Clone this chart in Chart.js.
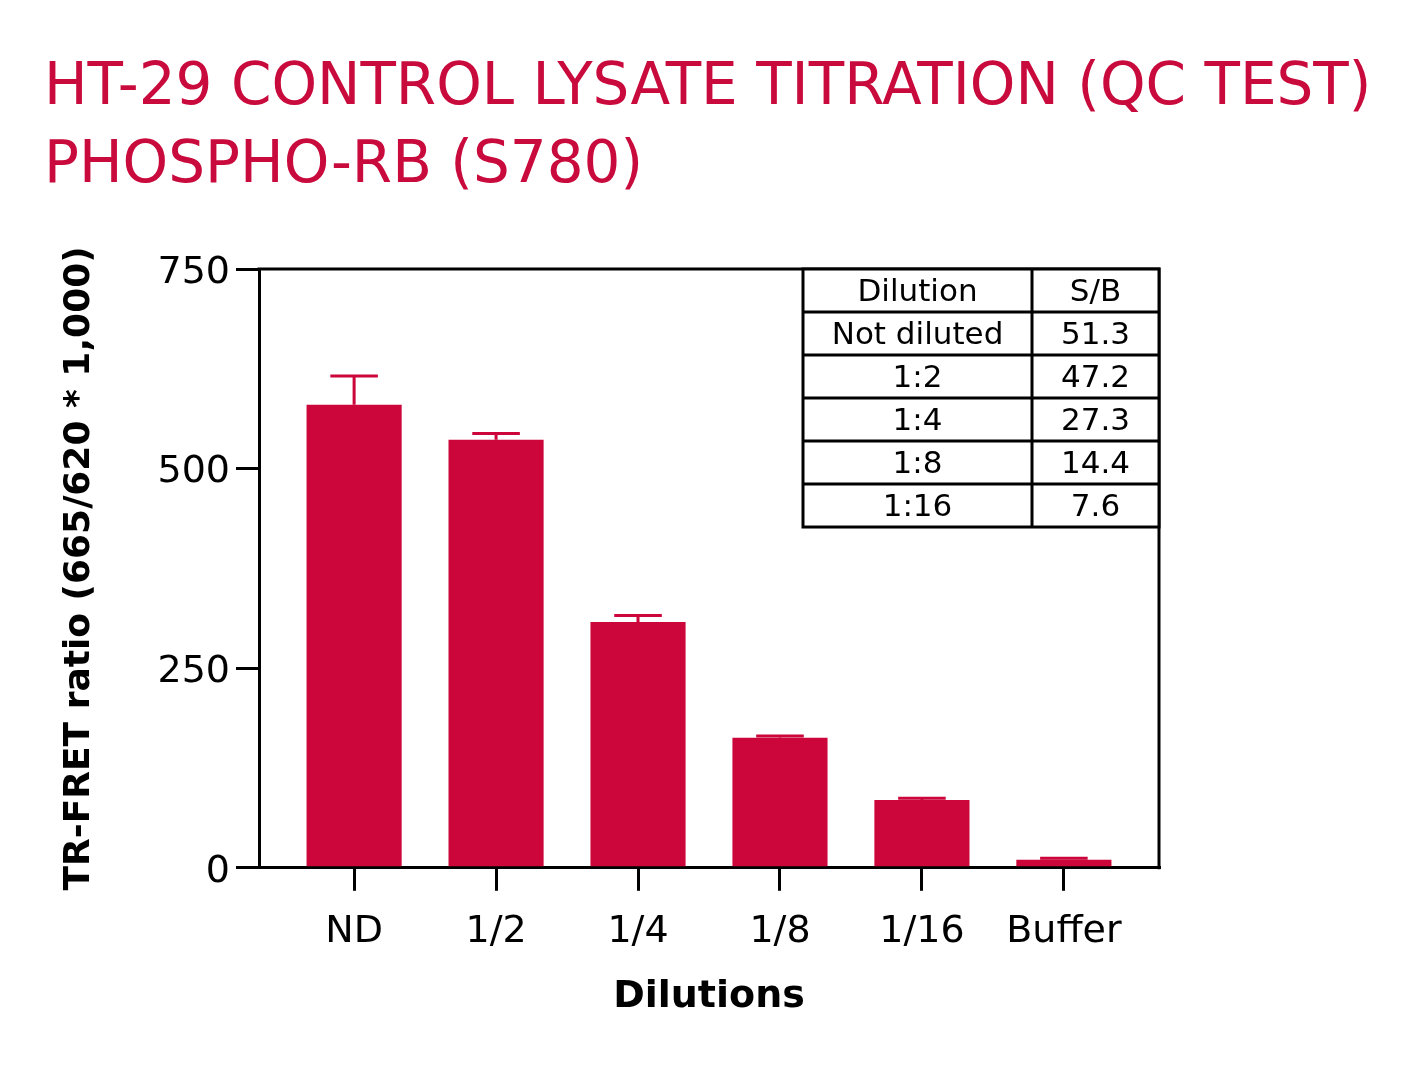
<!DOCTYPE html>
<html>
<head>
<meta charset="utf-8">
<script src="https://cdn.jsdelivr.net/npm/chart.js@4"></script>
<style>
  html, body { margin: 0; padding: 0; background: #fff; }
  #wrap { width: 1419px; height: 1065px; position: relative; }
</style>
</head>
<body>
<div id="wrap"><canvas id="titrationChart"></canvas></div>
<script>
// --- HT-29 control lysate titration (QC test), phospho-RB (S780) ---

// --- 1. Data ---
const titleLines = ['HT-29 CONTROL LYSATE TITRATION (QC TEST)', 'PHOSPHO-RB (S780)'];
const dilutions = ['ND', '1/2', '1/4', '1/8', '1/16', 'Buffer'];
const ratioMeans = [580, 536, 308, 163, 85, 10];
const ratioUpper = [616, 544, 316, 165, 87, 12];   // top of the error bars
const yTicks = [0, 250, 500, 750];

const tableHeader = ['Dilution', 'S/B'];
const tableDilution = ['Not diluted', '1:2', '1:4', '1:8', '1:16'];
const tableSB = ['51.3', '47.2', '27.3', '14.4', '7.6'];

const RED = '#CC053A';
const FONT = '"DejaVu Sans", sans-serif';

// --- 2. Plugins ---

// error bars (upper side only, like the original)
const errorBars = {
    id: 'errorBars',
    afterDatasetsDraw(chart) {
        const meta = chart.getDatasetMeta(0);
        const y = chart.scales.y;
        const c = chart.ctx;
        c.save();
        c.strokeStyle = RED;
        c.lineWidth = 3;
        meta.data.forEach((bar, i) => {
            const top = y.getPixelForValue(ratioUpper[i]);
            const half = bar.width / 4;
            c.beginPath();
            c.moveTo(bar.x, bar.y);
            c.lineTo(bar.x, top);
            c.moveTo(bar.x - half, top);
            c.lineTo(bar.x + half, top);
            c.stroke();
        });
        c.restore();
    }
};

// top + right edges of the plot box
const frame = {
    id: 'frame',
    afterDraw(chart) {
        const a = chart.chartArea;
        const c = chart.ctx;
        c.save();
        c.strokeStyle = '#000';
        c.lineWidth = 3;
        c.beginPath();
        c.moveTo(a.left - 1.5, a.top);
        c.lineTo(a.right, a.top);
        c.lineTo(a.right, a.bottom + 1.5);
        c.stroke();
        c.restore();
    }
};

// S/B table in the upper right corner
const sbTable = {
    id: 'sbTable',
    afterDraw(chart) {
        const a = chart.chartArea;
        const c = chart.ctx;
        const w = 356, split = 229, rowH = 43;
        const left = a.right - w;
        const top = a.top;
        const rows = [tableHeader].concat(tableDilution.map((d, i) => [d, tableSB[i]]));
        const h = rowH * rows.length;

        c.save();
        c.fillStyle = '#fff';
        c.fillRect(left, top, w, h);
        c.strokeStyle = '#000';
        c.lineWidth = 3;
        c.strokeRect(left, top, w, h);
        c.beginPath();
        c.moveTo(left + split, top);
        c.lineTo(left + split, top + h);
        for (let r = 1; r < rows.length; r++) {
            c.moveTo(left, top + r * rowH);
            c.lineTo(left + w, top + r * rowH);
        }
        c.stroke();

        c.fillStyle = '#000';
        c.font = '31px ' + FONT;
        c.textAlign = 'center';
        c.textBaseline = 'middle';
        rows.forEach((row, r) => {
            const cy = top + r * rowH + rowH / 2 + 2;
            c.fillText(row[0], left + split / 2, cy);
            c.fillText(row[1], left + split + (w - split) / 2, cy);
        });
        c.restore();
    }
};

// --- 3. Chart ---
const ctx = document.getElementById('titrationChart').getContext('2d');

new Chart(ctx, {
    type: 'bar',
    data: {
        datasets: [{
            data: ratioMeans.map((v, i) => ({ x: i, y: v })),
            backgroundColor: RED,
            borderWidth: 0,
            barPercentage: 0.67,
            categoryPercentage: 1
        }]
    },
    options: {
        responsive: true,
        maintainAspectRatio: false,
        animation: false,
        layout: { padding: { left: 44, right: 0, top: 0, bottom: 45 } },
        plugins: {
            legend: { display: false },
            tooltip: { enabled: false },
            title: {
                display: true,
                text: titleLines,
                align: 'start',
                color: '#C90A3C',
                font: { family: FONT, size: 58, weight: 'normal', lineHeight: 1.345 },
                padding: { top: 50, bottom: 63 }
            }
        },
        scales: {
            x: {
                type: 'linear',
                offset: false,
                min: -0.67,
                max: dilutions.length - 1 + 0.67,
                afterBuildTicks: (scale) => { scale.ticks = dilutions.map((_, i) => ({ value: i })); },
                ticks: {
                    callback: (v) => dilutions[v],
                    color: '#000',
                    font: { family: FONT, size: 38 },
                    padding: 19,
                    maxRotation: 0,
                    autoSkip: false
                },
                grid: { offset: false, drawOnChartArea: false, drawTicks: true, tickLength: 23, lineWidth: 3, color: '#000' },
                border: { display: true, width: 3, color: '#000' },
                title: {
                    display: true,
                    text: 'Dilutions',
                    color: '#000',
                    font: { family: FONT, size: 38, weight: 'bold' },
                    padding: { top: 0, bottom: 0 }
                }
            },
            y: {
                min: 0,
                max: 750,
                afterBuildTicks: (scale) => { scale.ticks = yTicks.map(v => ({ value: v })); },
                afterFit: (scale) => { scale.width = 215; },
                ticks: {
                    color: '#000',
                    font: { family: FONT, size: 38 },
                    padding: 6,
                    labelOffset: 4
                },
                grid: { drawOnChartArea: false, drawTicks: true, tickLength: 23, lineWidth: 3, color: '#000' },
                border: { display: true, width: 3, color: '#000' },
                title: {
                    display: true,
                    text: 'TR-FRET ratio (665/620 * 1,000)',
                    color: '#000',
                    font: { family: FONT, size: 36, weight: 'bold' },
                    padding: { top: 14, bottom: 0 }
                }
            },
            // empty right-hand scale, only keeps the white margin right of the plot
            yRight: {
                position: 'right',
                min: 0,
                max: 1,
                afterFit: (scale) => { scale.width = 260; },
                ticks: { display: false },
                grid: { display: false },
                border: { display: false }
            }
        }
    },
    plugins: [errorBars, frame, sbTable]
});
</script>
</body>
</html>
